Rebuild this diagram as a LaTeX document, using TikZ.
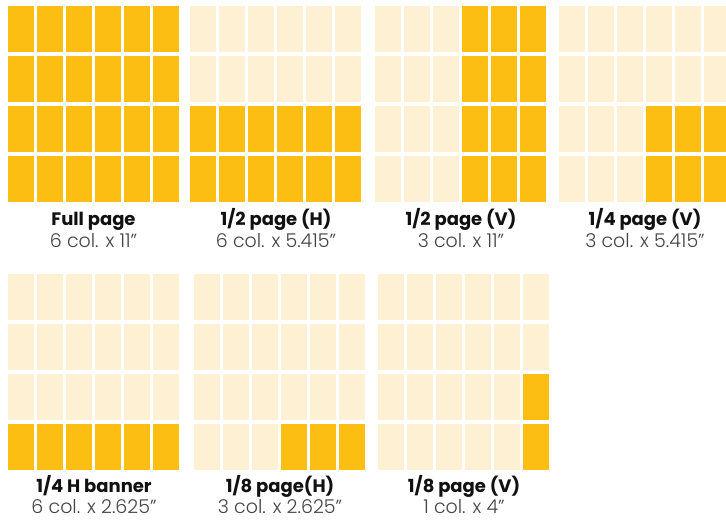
\documentclass[tikz,border=0pt]{standalone}
\usepackage{fontspec}
\newfontfamily\pop{Poppins}
\IfFontExistsTF{Poppins Light}{\newfontfamily\popl{Poppins Light}}{\newfontfamily\popl{Poppins}}
\definecolor{dark}{HTML}{FCBE13}
\definecolor{light}{HTML}{FEF0D3}
\definecolor{ttl}{HTML}{111111}
\definecolor{sub}{HTML}{444444}
\newcommand{\pgrid}[6]{%
  \foreach \c in {0,...,5}{%
    \foreach \r in {0,...,3}{%
      \pgfmathtruncatemacro{\dk}{and(and(\c>=#3,\c<=#4),and(\r>=#5,\r<=#6))}%
      \ifnum\dk=1 \def\cc{dark}\else\def\cc{light}\fi
      \fill[\cc] ({#1+29*\c},{#2+50*\r}) rectangle ++(26,46);
    }%
  }%
}
\begin{document}
\begin{tikzpicture}[x=1pt,y=-1pt,
  title/.style={anchor=base,inner sep=0pt,font=\pop\bfseries\fontsize{18}{18}\selectfont,text=ttl},
  subt/.style={anchor=base,inner sep=0pt,font=\popl\fontsize{19}{19}\selectfont,text=sub}]
\path[use as bounding box,clip] (0,0) rectangle (726,521);
\fill[white] (0,0) rectangle (726,521);
% top row
\pgrid{8}{6}{0}{5}{0}{3}
\pgrid{190}{6}{0}{5}{2}{3}
\pgrid{375}{6}{3}{5}{0}{3}
\pgrid{559}{6}{3}{5}{2}{3}
% bottom row
\pgrid{8}{274}{0}{5}{3}{3}
\pgrid{194}{274}{3}{5}{3}{3}
\pgrid{378}{274}{5}{5}{2}{3}
% labels
\node[title] (t1) at (93.5,226) {Full page};
\node[subt]  (s1) at (93.5,248) {6 col. x 11”};
\node[title] (t2) at (276,226) {1/2 page (H)};
\node[subt]  (s2) at (276,248) {6 col. x 5.415”};
\node[title] (t3) at (461,226) {1/2 page (V)};
\node[subt]  (s3) at (461,248) {3 col. x 11”};
\node[title] (t4) at (645,226) {1/4 page (V)};
\node[subt]  (s4) at (645,248) {3 col. x 5.415”};
\node[title] (t5) at (94,492) {1/4 H banner};
\node[subt]  (s5) at (94,513) {6 col. x 2.625”};
\node[title] (t6) at (280,492) {1/8 page(H)};
\node[subt]  (s6) at (280,513) {3 col. x 2.625”};
\node[title] (t7) at (464,492) {1/8 page (V)};
\node[subt]  (s7) at (464,513) {1 col. x 4”};
\end{tikzpicture}
\end{document}
